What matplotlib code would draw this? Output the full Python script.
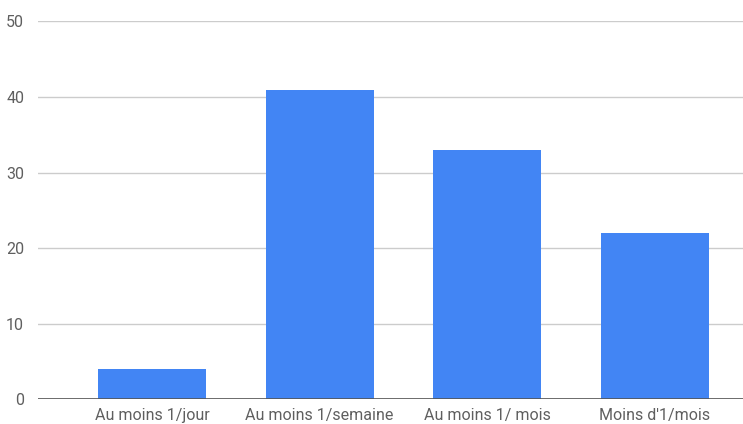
import matplotlib
matplotlib.use('Agg')
import matplotlib.pyplot as plt

plt.rcParams['font.family'] = ['Roboto', 'DejaVu Sans']

# données
categories = ['Au moins 1/jour', 'Au moins 1/semaine', 'Au moins 1/ mois', "Moins d'1/mois"]
valeurs = [4, 41, 33, 22]
yticks = [0, 10, 20, 30, 40, 50]

fig = plt.figure(figsize=(7.43, 4.24), dpi=100)
ax = fig.add_axes([0.0511, 0.0578, 0.9489, 0.8915])

x = range(len(categories))
ax.bar(x, valeurs, width=0.644, color='#4285F4', zorder=3)

ax.set_xlim(-0.68, 3.525)
ax.set_ylim(0, 50)
ax.set_yticks(yticks)
ax.set_xticks(list(x))
ax.set_xticklabels(categories)

# grille horizontale
ax.grid(axis='y', color='#cccccc', linewidth=1, zorder=0)
ax.axhline(0, color='#555555', linewidth=1.2, zorder=4)

for s in ax.spines.values():
    s.set_visible(False)

ax.tick_params(axis='both', length=0, labelsize=11.5, colors='#5f5f5f')
ax.tick_params(axis='x', pad=6)
ax.tick_params(axis='y', pad=10)

fig.savefig('out.png', dpi=100)
